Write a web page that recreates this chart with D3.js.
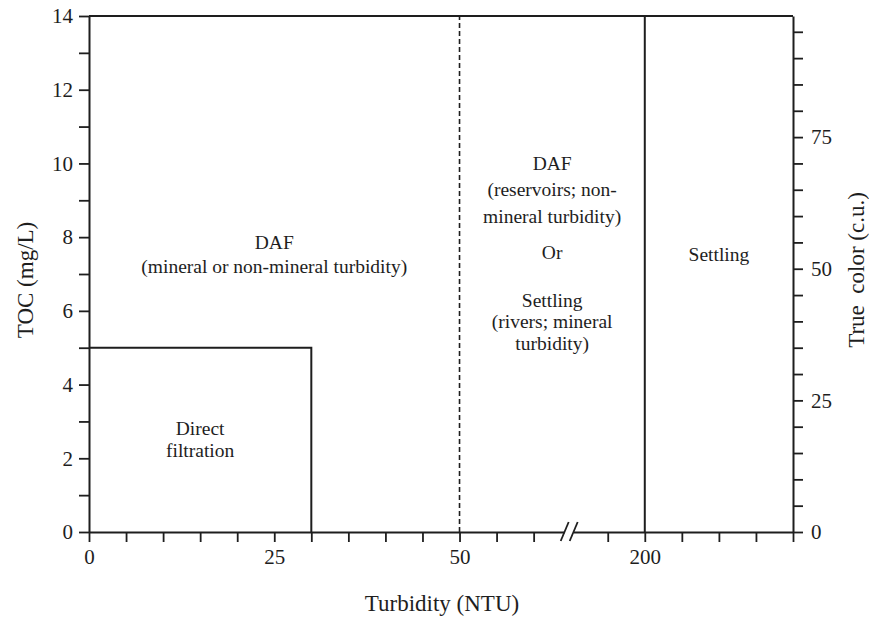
<!DOCTYPE html>
<html>
<head>
<meta charset="utf-8">
<script src="https://cdn.jsdelivr.net/npm/d3@7"></script>
<style>
  body { margin: 0; background: #fff; }
  svg, svg text { font-family: "Liberation Serif", "Times New Roman", Times, "DejaVu Serif", serif !important; }
  svg { display: block; }
</style>
</head>
<body>
<div class="canvas"></div>
<script>
// left axis (TOC, mg/L)
const tocTicks = d3.range(0, 15, 1);
const tocLabels = [0, 2, 4, 6, 8, 10, 12, 14];

// right axis (true color, c.u.) - 7 c.u. per mg/L TOC
const colorDomain = [0, 98];
const colorTicks = d3.range(0, 100, 5);
const colorLabels = [0, 25, 50, 75];

// bottom axis (turbidity, NTU) - broken between 50 and 200
const turbSegments = [0, 50, 200, 320];
const turbSegmentSteps = [0, 10, 15, 19];
const turbTicks = [0, 5, 10, 15, 20, 25, 30, 35, 40, 45, 50, 80, 110, 170, 200, 230, 260, 290, 320];
const turbLabels = [0, 25, 50, 200];
const turbBreakAt = 140;

// region boundaries
const directTurb = 30;
const directTOC = 5;
const dafLimitTurb = 50;
const settlingLimitTurb = 200;

// region text: [text, region start, region end, TOC baseline]
const regionText = [
  ["DAF", 0, 50, 7.67],
  ["(mineral or non-mineral turbidity)", 0, 50, 7.02],
  ["Direct", 0, 30, 2.62],
  ["filtration", 0, 30, 2.03],
  ["DAF", 50, 200, 9.82],
  ["(reservoirs; non-", 50, 200, 9.11],
  ["mineral turbidity)", 50, 200, 8.38],
  ["Or", 50, 200, 7.40],
  ["Settling", 50, 200, 6.10],
  ["(rivers; mineral", 50, 200, 5.53],
  ["turbidity)", 50, 200, 4.93],
  ["Settling", 200, 320, 7.35]
];

const margin = { top: 16, right: 76, bottom: 85, left: 89 };
const graphWidth = 869 - margin.left - margin.right;
const graphHeight = 617 - margin.top - margin.bottom;
const ink = "#1e1e1e";
const serif = '"Liberation Serif", "Times New Roman", Times, "DejaVu Serif", serif';

const svg = d3
  .select(".canvas")
  .append("svg")
  .attr("width", 869)
  .attr("height", 617);

const graph = svg
  .append("g")
  .attr("transform", `translate(${margin.left}, ${margin.top})`);

// scales
const step = graphWidth / turbSegmentSteps[turbSegmentSteps.length - 1];
const x = d3
  .scaleLinear()
  .domain(turbSegments)
  .range(turbSegmentSteps.map(s => s * step));
const y = d3.scaleLinear().domain([0, 14]).range([graphHeight, 0]);
const yColor = d3.scaleLinear().domain(colorDomain).range([graphHeight, 0]);

// axes
const xAxis = d3
  .axisBottom(x)
  .tickValues(turbTicks)
  .tickSize(10)
  .tickSizeOuter(0)
  .tickPadding(7)
  .tickFormat(d => (turbLabels.includes(d) ? d : ""));
const yAxis = d3
  .axisLeft(y)
  .tickValues(tocTicks)
  .tickSize(10)
  .tickSizeOuter(0)
  .tickPadding(6)
  .tickFormat(d => (tocLabels.includes(d) ? d : ""));
const yColorAxis = d3
  .axisRight(yColor)
  .tickValues(colorTicks)
  .tickSize(10)
  .tickSizeOuter(0)
  .tickPadding(8)
  .tickFormat(d => (colorLabels.includes(d) ? d : ""));

const xAxisGroup = graph
  .append("g")
  .attr("transform", `translate(0, ${graphHeight})`)
  .call(xAxis);
const yAxisGroup = graph.append("g").call(yAxis);
const yColorGroup = graph
  .append("g")
  .attr("transform", `translate(${graphWidth}, 0)`)
  .call(yColorAxis);

[xAxisGroup, yAxisGroup, yColorGroup].forEach(g => {
  g.attr("font-family", serif);
  g.select(".domain").attr("stroke", ink).attr("stroke-width", 2);
  g.selectAll(".tick line").attr("stroke", ink).attr("stroke-width", 1.8);
  g.selectAll("text")
    .attr("fill", ink)
    .style("font-size", "21px");
});

// top border
graph
  .append("line")
  .attr("x1", x(turbSegments[0]))
  .attr("x2", x(turbSegments[turbSegments.length - 1]))
  .attr("y1", 0)
  .attr("y2", 0)
  .attr("stroke", ink)
  .attr("stroke-width", 2);

// axis break
const bx = x(turbBreakAt);
graph
  .append("rect")
  .attr("x", bx - 6)
  .attr("y", graphHeight - 3)
  .attr("width", 9)
  .attr("height", 6)
  .attr("fill", "#fff");
[-6, 3].forEach(off => {
  graph
    .append("line")
    .attr("x1", bx + off - 4)
    .attr("y1", graphHeight + 9)
    .attr("x2", bx + off + 4)
    .attr("y2", graphHeight - 10)
    .attr("stroke", ink)
    .attr("stroke-width", 1.8);
});

// direct filtration box
graph
  .append("path")
  .attr("d", `M${x(0)},${y(directTOC)} H${x(directTurb)} V${y(0)}`)
  .attr("fill", "none")
  .attr("stroke", ink)
  .attr("stroke-width", 2);

// DAF limit (dashed) and settling limit (solid)
graph
  .append("line")
  .attr("x1", x(dafLimitTurb))
  .attr("x2", x(dafLimitTurb))
  .attr("y1", y(0))
  .attr("y2", y(14))
  .attr("stroke", ink)
  .attr("stroke-width", 1.6)
  .attr("stroke-dasharray", "5,3");
graph
  .append("line")
  .attr("x1", x(settlingLimitTurb))
  .attr("x2", x(settlingLimitTurb))
  .attr("y1", y(0))
  .attr("y2", y(14))
  .attr("stroke", ink)
  .attr("stroke-width", 2);

// region labels
graph
  .selectAll(".region")
  .data(regionText)
  .enter()
  .append("text")
  .attr("class", "region")
  .attr("x", d => (x(d[1]) + x(d[2])) / 2)
  .attr("y", d => y(d[3]))
  .attr("text-anchor", "middle")
  .attr("fill", ink)
  .style("font-size", "19.5px")
  .text(d => d[0]);

// axis titles
svg
  .append("text")
  .attr("x", 442)
  .attr("y", 611)
  .attr("text-anchor", "middle")
  .attr("fill", ink)
  .style("font-size", "23px")
  .text("Turbidity (NTU)");

svg
  .append("text")
  .attr("transform", "translate(33, 280) rotate(-90)")
  .attr("text-anchor", "middle")
  .attr("fill", ink)
  .style("font-size", "23px")
  .text("TOC (mg/L)");

svg
  .append("text")
  .attr("transform", "translate(864, 270) rotate(-90)")
  .attr("text-anchor", "middle")
  .attr("fill", ink)
  .style("font-size", "23px")
  .style("white-space", "pre")
  .text("True  color (c.u.)");
</script>
</body>
</html>
